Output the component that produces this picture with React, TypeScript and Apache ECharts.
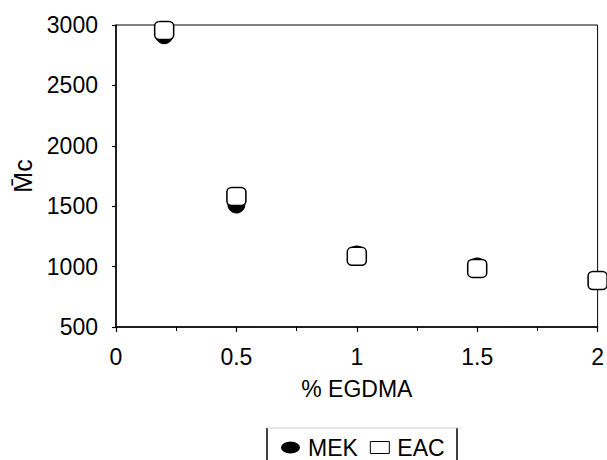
import React, { useEffect, useRef } from "react";
import * as echarts from "echarts";

const egdma = [0.2, 0.5, 1, 1.5, 2];
const mekValues = [2915, 1515, 1100, 1000, 885];
const eacValues = [2955, 1580, 1085, 985, 885];
const seriesNames = ["MEK", "EAC"];

const FONT = "Liberation Sans";

export default function App() {
  const ref = useRef<HTMLDivElement>(null);
  useEffect(() => {
    if (!ref.current) return;
    const chart = echarts.init(ref.current, null, { renderer: "svg" });
    chart.setOption({
      animation: false,
      backgroundColor: "#fff",
      grid: {
        left: 116,
        top: 25,
        width: 489,
        height: 302,
        show: true,
        borderColor: "#000",
        borderWidth: 1,
        backgroundColor: "transparent",
      },
      xAxis: {
        type: "value",
        min: 0,
        max: 2,
        interval: 0.5,
        name: "% EGDMA",
        nameLocation: "middle",
        nameGap: 50,
        nameTextStyle: { fontFamily: FONT, fontSize: 23, color: "#000" },
        axisLine: { onZero: false, lineStyle: { color: "#000", width: 1.5 } },
        axisTick: { length: 5, lineStyle: { color: "#000", width: 1.2 } },
        minorTick: { show: true, splitNumber: 2, length: 4, lineStyle: { color: "#000" } },
        axisLabel: { fontFamily: FONT, fontSize: 23, color: "#000", margin: 18, formatter: (v: number) => String(v) },
        splitLine: { show: false },
      },
      yAxis: {
        type: "value",
        min: 500,
        max: 3000,
        interval: 500,
        name: "M\u0304c",
        nameLocation: "middle",
        nameGap: 74,
        nameRotate: 90,
        nameTextStyle: { fontFamily: FONT, fontSize: 25, color: "#000" },
        axisLine: { onZero: false, lineStyle: { color: "#000", width: 1.5 } },
        axisTick: { length: 4, lineStyle: { color: "#000", width: 1.2 } },
        axisLabel: { fontFamily: FONT, fontSize: 23, color: "#000", margin: 18, formatter: (v: number) => String(v) },
        splitLine: { show: false },
      },
      legend: {
        left: 276,
        top: 431,
        itemWidth: 19,
        itemHeight: 12,
        itemGap: 12,
        textStyle: { fontFamily: FONT, fontSize: 23, color: "#000", padding: [0, 0, 0, 3] },
        data: [
          { name: seriesNames[0], icon: "path://M0,6a9.5,6 0 1,0 19,0a9.5,6 0 1,0 -19,0z", itemStyle: { color: "#000", opacity: 1 } },
          { name: seriesNames[1], icon: "rect", itemStyle: { color: "#fff", borderColor: "#000", borderWidth: 1, opacity: 1 } },
        ],
      },
      graphic: [
        { type: "line", shape: { x1: 267, y1: 428, x2: 267, y2: 460 }, style: { stroke: "#000", lineWidth: 1.5 } },
        { type: "line", shape: { x1: 457, y1: 428, x2: 457, y2: 460 }, style: { stroke: "#000", lineWidth: 1.5 } },
        { type: "line", shape: { x1: 267, y1: 428, x2: 457, y2: 428 }, style: { stroke: "#ccc", lineWidth: 1 } },
      ],
      series: [
        {
          name: seriesNames[0],
          type: "scatter",
          clip: false,
          symbol: "circle",
          symbolSize: 18,
          itemStyle: { color: "#000", opacity: 1 },
          data: egdma.map((x, i) => [x, mekValues[i]]),
        },
        {
          name: seriesNames[1],
          type: "scatter",
          clip: false,
          symbol: "roundRect",
          symbolSize: [19, 18],
          itemStyle: { color: "#fff", borderColor: "#000", borderWidth: 1.5, opacity: 1 },
          data: egdma.map((x, i) => [x, eacValues[i]]),
        },
      ],
    });
    return () => chart.dispose();
  }, []);
  return (
    <div
      ref={ref}
      style={{ position: "fixed", left: 0, top: 0, width: 607, height: 460 }}
    />
  );
}
